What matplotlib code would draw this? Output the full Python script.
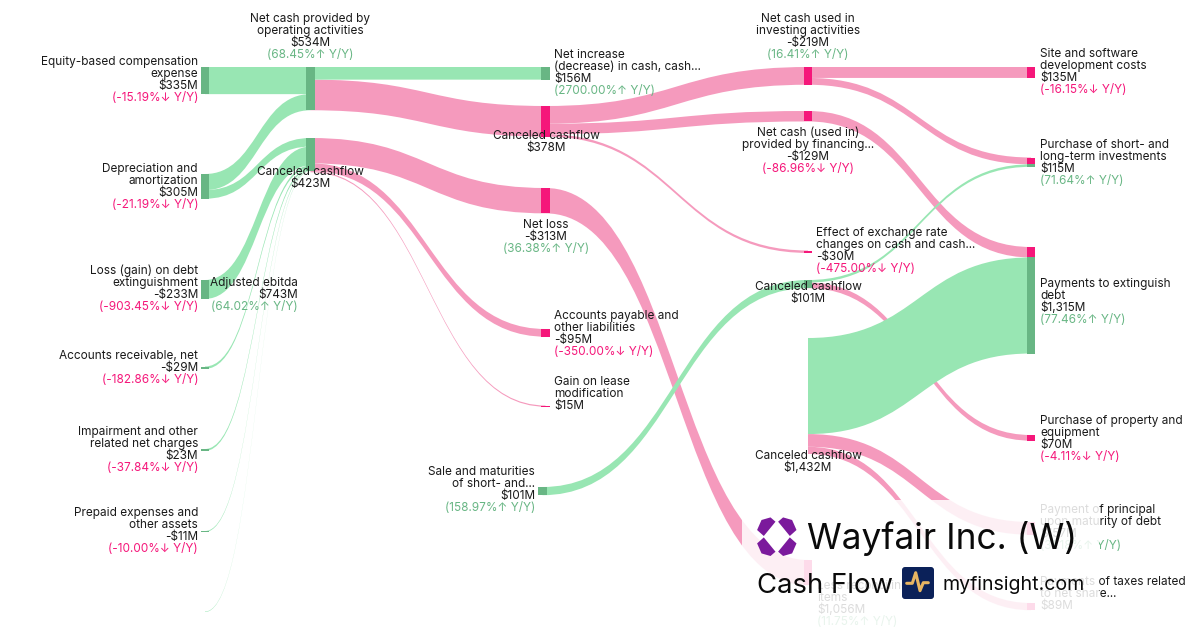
import matplotlib
matplotlib.use("Agg")
import matplotlib.pyplot as plt
from matplotlib.path import Path
from matplotlib.patches import PathPatch, Rectangle, Polygon, FancyBboxPatch

plt.rcParams['font.family'] = ['Inter', 'DejaVu Sans']

GREEN = "#98e6b3"
GREEN_DARK = "#68b684"
PINK = "#f59abd"
PINK_DARK = "#f5177a"
TEXT = "#1a1a1a"

# flows in $M
link_source = ["equity", "depr", "depr", "loss", "ar", "impair", "prepaid", "unnamed",
               "op", "op", "cancel423", "cancel423", "cancel423",
               "cancel378", "cancel378", "cancel378", "netloss", "sale",
               "investing", "investing", "financing", "cancel101", "cancel101",
               "cancel1432", "cancel1432", "cancel1432"]
link_target = ["op", "op", "cancel423", "cancel423", "cancel423", "cancel423", "cancel423", "cancel423",
               "netinc", "cancel378", "netloss", "payable", "lease",
               "investing", "financing", "effect", "less", "cancel101",
               "site", "purchase", "payments", "purchase", "property",
               "payments", "principal", "taxes"]
link_values = [335, 199, 106, 233, 29, 23, 11, 6,
               156, 378, 313, 95, 15,
               219, 129, 30, 313, 101,
               135, 84, 129, 31, 70,
               1186, 157, 89]
link_kind = ["g", "g", "g", "g", "g", "g", "g", "g",
             "g", "p", "p", "p", "p",
             "p", "p", "p", "p", "g",
             "p", "p", "p", "g", "p",
             "g", "p", "p"]

# layout, in pixels
px_per_m = 0.081
node_w = 8.5
node_x = {"equity": 205, "depr": 205, "loss": 205, "ar": 205, "impair": 205, "prepaid": 205, "unnamed": 205,
          "op": 310.5, "cancel423": 310.5,
          "netinc": 545.5, "cancel378": 545.5, "netloss": 545.5, "payable": 545.5, "lease": 545.5, "sale": 542.5,
          "investing": 808, "financing": 808, "effect": 808, "cancel101": 808, "cancel1432": 808, "less": 808,
          "site": 1031, "purchase": 1031, "payments": 1031, "property": 1031, "principal": 1031, "taxes": 1031}
node_top = {"equity": 67, "depr": 174, "loss": 280, "ar": 366.5, "impair": 449, "prepaid": 531, "unnamed": 611.5,
            "op": 67, "cancel423": 138,
            "netinc": 67, "cancel378": 106, "netloss": 188, "payable": 329, "lease": 405.5, "sale": 487,
            "investing": 67, "financing": 111, "effect": 250.5, "cancel101": 280, "cancel1432": 338, "less": 560,
            "site": 67, "purchase": 157.5, "payments": 247, "property": 435, "principal": 522, "taxes": 603}
hidden_nodes = ["cancel1432"]

# label: node text lines, last one may be the Y/Y line
labels = [
    (198, 62, "right", ["Equity-based compensation", "expense", "$335M"], "(-15.19%↓ Y/Y)"),
    (198, 169, "right", ["Depreciation and", "amortization", "$305M"], "(-21.19%↓ Y/Y)"),
    (198, 271, "right", ["Loss (gain) on debt", "extinguishment", "-$233M"], "(-903.45%↓ Y/Y)"),
    (198, 356, "right", ["Accounts receivable, net", "-$29M"], "(-182.86%↓ Y/Y)"),
    (198, 432, "right", ["Impairment and other", "related net charges", "$23M"], "(-37.84%↓ Y/Y)"),
    (198, 513, "right", ["Prepaid expenses and", "other assets", "-$11M"], "(-10.00%↓ Y/Y)"),
    (310, 19, "center", ["Net cash provided by", "operating activities", "$534M"], "(68.45%↑ Y/Y)"),
    (310, 172, "center", ["Canceled cashflow", "$423M"], None),
    (298, 283, "right", ["Adjusted ebitda", "$743M"], "(64.02%↑ Y/Y)"),
    (554, 55, "left", ["Net increase", "(decrease) in cash, cash...", "$156M"], "(2700.00%↑ Y/Y)"),
    (546, 136, "center", ["Canceled cashflow", "$378M"], None),
    (546, 225, "center", ["Net loss", "-$313M"], "(36.38%↑ Y/Y)"),
    (554, 316, "left", ["Accounts payable and", "other liabilities", "-$95M"], "(-350.00%↓ Y/Y)"),
    (554, 382, "left", ["Gain on lease", "modification", "$15M"], None),
    (535, 472, "right", ["Sale and maturities", "of short- and...", "$101M"], "(158.97%↑ Y/Y)"),
    (808, 19, "center", ["Net cash used in", "investing activities", "-$219M"], "(16.41%↑ Y/Y)"),
    (808, 133, "center", ["Net cash (used in)", "provided by financing...", "-$129M"], "(-86.96%↓ Y/Y)"),
    (816, 233, "left", ["Effect of exchange rate", "changes on cash and cash...", "-$30M"], "(-475.00%↓ Y/Y)"),
    (808, 287, "center", ["Canceled cashflow", "$101M"], None),
    (808, 456, "center", ["Canceled cashflow", "$1,432M"], None),
    (817, 586, "left", ["Less reconciling", "items", "$1,056M"], "(11.75%↑ Y/Y)"),
    (1040, 54, "left", ["Site and software", "development costs", "$135M"], "(-16.15%↓ Y/Y)"),
    (1040, 145, "left", ["Purchase of short- and", "long-term investments", "$115M"], "(71.64%↑ Y/Y)"),
    (1040, 284, "left", ["Payments to extinguish", "debt", "$1,315M"], "(77.46%↑ Y/Y)"),
    (1040, 421, "left", ["Purchase of property and", "equipment", "$70M"], "(-4.11%↓ Y/Y)"),
    (1040, 510, "left", ["Payment of principal", "upon maturity of debt", "$157M"], "(31.18%↑ Y/Y)"),
    (1040, 582, "left", ["Payments of taxes related", "to net share...", "$89M"], None),
]

fig = plt.figure(figsize=(12, 6.3), dpi=100)
ax = fig.add_axes([0, 0, 1, 1])
ax.set_xlim(0, 1200)
ax.set_ylim(630, 0)
ax.axis("off")

# stack the links on each node, in list order
out_used = {}
in_used = {}
segments = []
curves = []
for src, tgt, val, kind in zip(link_source, link_target, link_values, link_kind):
    h = val * px_per_m
    y0 = node_top[src] + out_used.get(src, 0)
    y1 = node_top[tgt] + in_used.get(tgt, 0)
    out_used[src] = out_used.get(src, 0) + h
    in_used[tgt] = in_used.get(tgt, 0) + h
    curves.append((node_x[src], y0, node_x[tgt], y1, h, kind))
    segments.append((tgt, y1, h, kind))
    if src not in link_target and src not in hidden_nodes:
        segments.append((src, y0, h, kind))

# pink goes under green
for wanted in ["p", "g"]:
    for x0, y0, x1, y1, h, kind in curves:
        if kind != wanted:
            continue
        xm = (x0 + x1) / 2
        # band of constant vertical thickness
        path = Path([(x0, y0), (xm, y0), (xm, y1), (x1, y1),
                     (x1, y1 + h), (xm, y1 + h), (xm, y0 + h), (x0, y0 + h), (x0, y0)],
                    [Path.MOVETO, Path.CURVE4, Path.CURVE4, Path.CURVE4,
                     Path.LINETO, Path.CURVE4, Path.CURVE4, Path.CURVE4, Path.CLOSEPOLY])
        ax.add_patch(PathPatch(path, lw=0, facecolor=GREEN if kind == "g" else PINK, zorder=2))

# nodes keep the colours of what flows into them
for name, top, h, kind in segments:
    if name == "op" or name == "cancel423":
        kind = "g"
    ax.add_patch(Rectangle((node_x[name] - node_w / 2, top), node_w, h, lw=0,
                           facecolor=GREEN_DARK if kind == "g" else PINK_DARK, zorder=3))

for x, y, ha, lines, change in labels:
    for i, line in enumerate(lines):
        ax.text(x, y + i * 12, line, ha=ha, va="center", fontsize=8.5, color=TEXT, zorder=4)
    if change:
        ax.text(x, y + len(lines) * 12, change, ha=ha, va="center", fontsize=8.5, zorder=4,
                color=GREEN_DARK if "↑" in change else PINK_DARK)

# white panel and branding on top
ax.add_patch(Rectangle((742, 500), 356.5, 130, lw=0, facecolor="white", alpha=0.85, zorder=5))

blob = [(-15.3, -16.7), (-6.3, -19.3), (-1.3, -15), (-13, -0.7), (-19.7, -6.7)]
for sx in [1, -1]:
    for sy in [1, -1]:
        ax.add_patch(Polygon([(776.8 + sx * px, 536.7 + sy * py) for px, py in blob], closed=True,
                             lw=0, facecolor="#7b1a9c", zorder=6))
ax.text(807, 539, "Wayfair Inc. (W)", fontsize=25.4, ha="left", va="center", color="#0a0a0a", zorder=6)
ax.text(757, 586, "Cash Flow", fontsize=19.8, ha="left", va="center", color="#0a0a0a", zorder=6)
ax.add_patch(FancyBboxPatch((904, 569), 28, 28, boxstyle="round,pad=2,rounding_size=3", lw=0,
                            facecolor="#0b2159", zorder=6))
ax.plot([906.7, 912.3, 915.7, 920, 923.3, 928.3], [583.3, 583.3, 572.7, 590.7, 582.7, 582.7],
        color="#e8b562", lw=2.2, solid_joinstyle="round", solid_capstyle="round", zorder=7)
ax.text(943, 585, "myfinsight.com", fontsize=14.1, ha="left", va="center", color="#0a0a0a", zorder=6)

fig.savefig("out.png", dpi=100, facecolor="white")
